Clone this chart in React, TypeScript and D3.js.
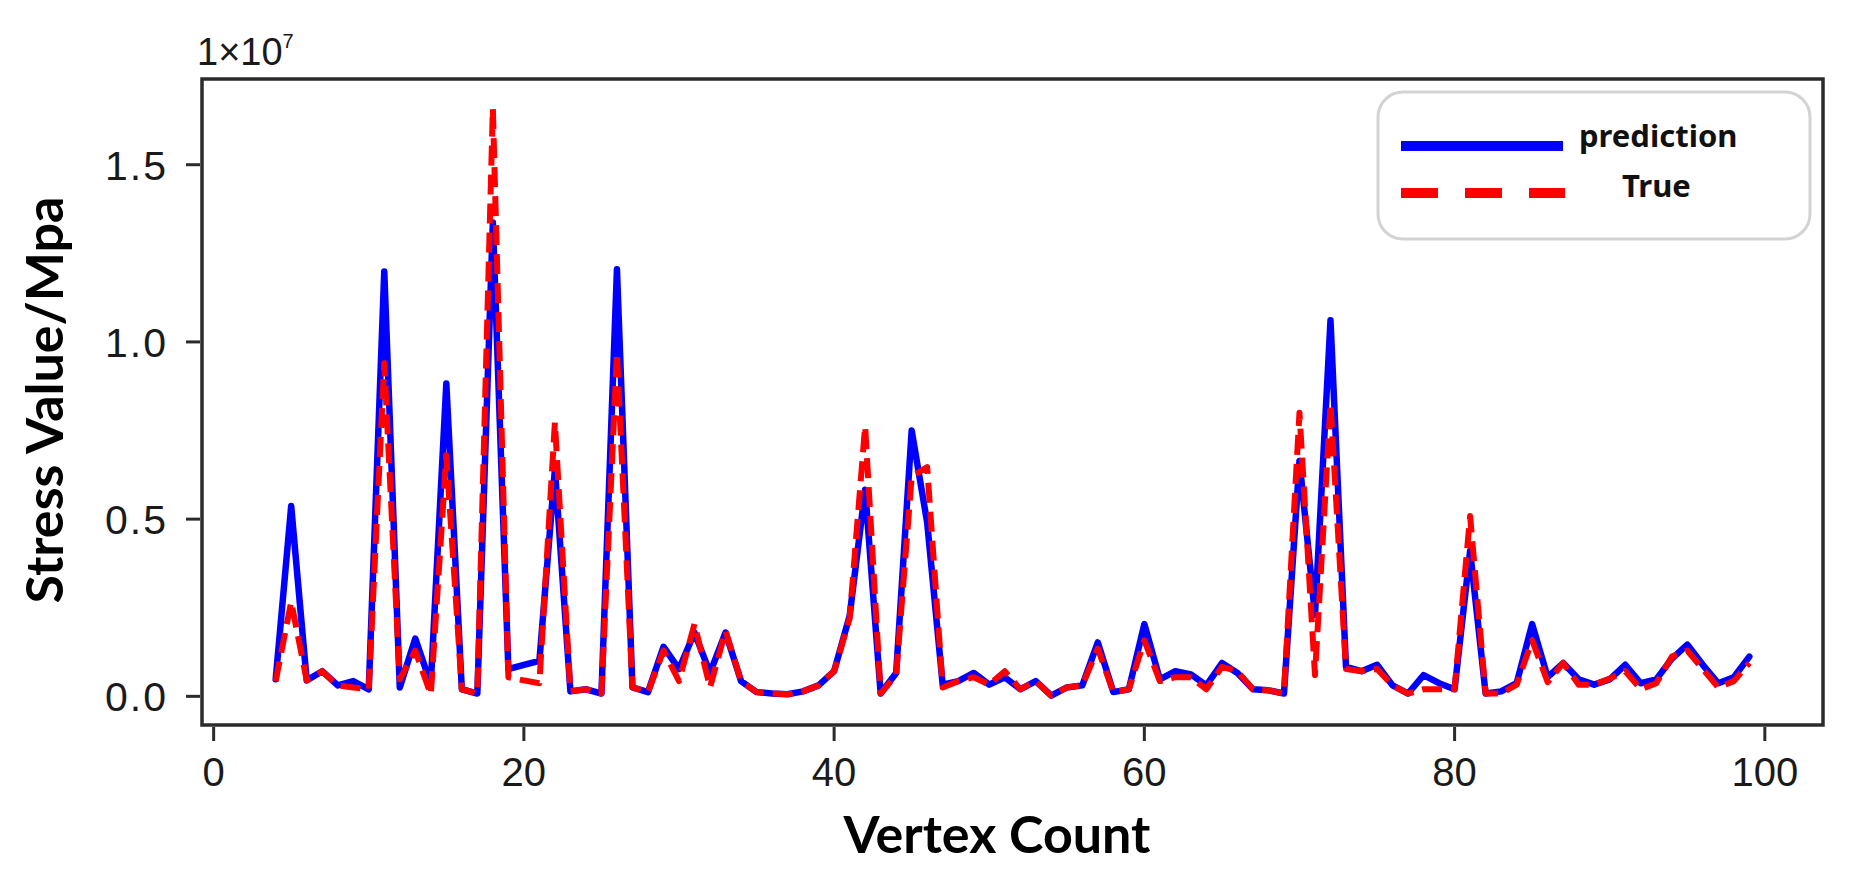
import React from "react";
import * as d3 from "d3";

// Vertex count (x categories)
const vertexCount: number[] = [
  4, 5, 6, 7, 8, 9, 10, 11, 12, 13, 14, 15, 16, 17, 18, 19, 20, 21, 22, 23, 24, 25, 26, 27,
  28, 29, 30, 31, 32, 33, 34, 35, 36, 37, 38, 39, 40, 41, 42, 43, 44, 45, 46, 47, 48, 49, 50, 51,
  52, 53, 54, 55, 56, 57, 58, 59, 60, 61, 62, 63, 64, 65, 66, 67, 68, 69, 70, 71, 72, 73, 74, 75,
  76, 77, 78, 79, 80, 81, 82, 83, 84, 85, 86, 87, 88, 89, 90, 91, 92, 93, 94, 95, 96, 97, 98, 99,
];

// Stress values in units of 1e7 (axis multiplier)
const prediction: number[] = [
  0.048, 0.537, 0.045, 0.071, 0.031, 0.043, 0.02, 1.199, 0.025, 0.163, 0.035, 0.883, 0.02, 0.008,
  1.337, 0.077, 0.089, 0.1, 0.64, 0.014, 0.02, 0.008, 1.205, 0.025, 0.012, 0.14, 0.077, 0.18,
  0.066, 0.18, 0.043, 0.012, 0.008, 0.006, 0.014, 0.031, 0.071, 0.227, 0.583, 0.008, 0.066, 0.75,
  0.49, 0.033, 0.043, 0.066, 0.033, 0.054, 0.02, 0.043, 0.002, 0.025, 0.031, 0.152, 0.012, 0.02,
  0.204, 0.048, 0.071, 0.062, 0.031, 0.094, 0.066, 0.02, 0.017, 0.008, 0.664, 0.23, 1.061, 0.083,
  0.071, 0.089, 0.031, 0.008, 0.06, 0.037, 0.02, 0.41, 0.008, 0.014, 0.037, 0.204, 0.054, 0.094,
  0.048, 0.033, 0.048, 0.089, 0.037, 0.048, 0.106, 0.146, 0.089, 0.037, 0.054, 0.112,
];

const trueValues: number[] = [
  0.043, 0.267, 0.045, 0.071, 0.031, 0.025, 0.02, 0.94, 0.048, 0.129, 0.005, 0.68, 0.02, 0.008,
  1.659, 0.054, 0.045, 0.037, 0.773, 0.014, 0.02, 0.008, 0.969, 0.025, 0.012, 0.129, 0.043, 0.204,
  0.025, 0.185, 0.043, 0.012, 0.008, 0.006, 0.014, 0.031, 0.071, 0.22, 0.762, 0.008, 0.06, 0.62,
  0.647, 0.025, 0.043, 0.054, 0.033, 0.071, 0.02, 0.043, 0.002, 0.025, 0.031, 0.135, 0.012, 0.02,
  0.158, 0.043, 0.054, 0.054, 0.02, 0.083, 0.071, 0.02, 0.017, 0.008, 0.8, 0.06, 0.825, 0.077,
  0.071, 0.077, 0.031, 0.008, 0.02, 0.02, 0.02, 0.509, 0.008, 0.008, 0.033, 0.158, 0.04, 0.094,
  0.033, 0.033, 0.05, 0.071, 0.02, 0.037, 0.112, 0.129, 0.077, 0.025, 0.043, 0.094,
];

const xTicks: number[] = [0, 20, 40, 60, 80, 100];
const yTicks: number[] = [0, 0.5, 1.0, 1.5];
const seriesNames: string[] = ["prediction", "True"];

const W = 1862;
const H = 880;
const plot = { left: 202, right: 1823, top: 79, bottom: 725 };

export default function App() {
  const xExt = d3.extent(vertexCount) as [number, number];
  const xPad = (xExt[1] - xExt[0]) * 0.05;
  const x = d3.scaleLinear().domain([xExt[0] - xPad, xExt[1] + xPad]).range([plot.left, plot.right]);

  const all = prediction.concat(trueValues);
  const yMin = d3.min(all) as number;
  const yMax = d3.max(all) as number;
  const yPad = (yMax - yMin) * 0.05;
  const y = d3.scaleLinear().domain([yMin - yPad, yMax + yPad]).range([plot.bottom, plot.top]);

  const line = d3
    .line<number>()
    .x((_, i) => x(vertexCount[i]))
    .y((d) => y(d));

  const tickFont = "'Liberation Sans', Arial, sans-serif";
  const labelFont = "Lato, 'Open Sans', sans-serif";
  const fmt = d3.format(".1f");

  return (
    <svg width={W} height={H} style={{ position: "absolute", left: 0, top: 0, background: "#fff" }}>
      <rect x={0} y={0} width={W} height={H} fill="#fff" />
      <defs>
        <clipPath id="plotClip">
          <rect x={plot.left} y={plot.top} width={plot.right - plot.left} height={plot.bottom - plot.top} />
        </clipPath>
      </defs>

      {/* data lines */}
      <g clipPath="url(#plotClip)">
        <path
          d={line(prediction) || ""}
          fill="none"
          stroke="#0000ff"
          strokeWidth={6.5}
          strokeLinejoin="round"
          strokeLinecap="round"
        />
        <path
          d={line(trueValues) || ""}
          fill="none"
          stroke="#ff0000"
          strokeWidth={6}
          strokeDasharray="20 9"
          strokeLinejoin="round"
        />
      </g>

      {/* spines */}
      <rect
        x={plot.left}
        y={plot.top}
        width={plot.right - plot.left}
        height={plot.bottom - plot.top}
        fill="none"
        stroke="#2b2b2b"
        strokeWidth={3.5}
      />

      {/* x axis */}
      {xTicks.map((t) => (
        <g key={"x" + t}>
          <line x1={x(t)} x2={x(t)} y1={plot.bottom + 2} y2={plot.bottom + 16} stroke="#2b2b2b" strokeWidth={3} />
          <text x={x(t)} y={786} textAnchor="middle" fontFamily={tickFont} fontSize={40} fill="#1a1a1a">
            {t}
          </text>
        </g>
      ))}

      {/* y axis */}
      {yTicks.map((t) => (
        <g key={"y" + t}>
          <line x1={plot.left - 2} x2={plot.left - 16} y1={y(t)} y2={y(t)} stroke="#2b2b2b" strokeWidth={3} />
          <text
            x={168}
            y={y(t) + 15}
            textAnchor="end"
            fontFamily={tickFont}
            fontSize={41}
            letterSpacing={2}
            fill="#1a1a1a"
          >
            {fmt(t)}
          </text>
        </g>
      ))}

      {/* offset text */}
      <text x={197} y={65} fontFamily={tickFont} fontSize={38} fill="#1a1a1a">
        1×10
        <tspan fontSize={20} dy={-17}>
          7
        </tspan>
      </text>

      {/* axis labels */}
      <text x={997} y={853} textAnchor="middle" fontFamily={labelFont} fontWeight="bold" fontSize={52} fill="#000">
        Vertex Count
      </text>
      <text
        transform="translate(63,400) rotate(-90)"
        textAnchor="middle"
        fontFamily={labelFont}
        fontWeight="bold"
        fontSize={52}
        fill="#000"
      >
        Stress Value/Mpa
      </text>

      {/* legend */}
      <g>
        <rect x={1378} y={92} width={432} height={147} rx={25} ry={25} fill="#fff" stroke="#d3d3d3" strokeWidth={3} />
        <line x1={1401} x2={1563} y1={146} y2={146} stroke="#0000ff" strokeWidth={10} />
        <line x1={1401} x2={1565} y1={193} y2={193} stroke="#ff0000" strokeWidth={10} strokeDasharray="37 27" />
        <text x={1579} y={147} fontFamily="'Noto Sans', sans-serif" fontWeight="bold" fontSize={31} fill="#111">
          {seriesNames[0]}
        </text>
        <text x={1622} y={197} fontFamily="'Noto Sans', sans-serif" fontWeight="bold" fontSize={31} fill="#111">
          {seriesNames[1]}
        </text>
      </g>
    </svg>
  );
}
